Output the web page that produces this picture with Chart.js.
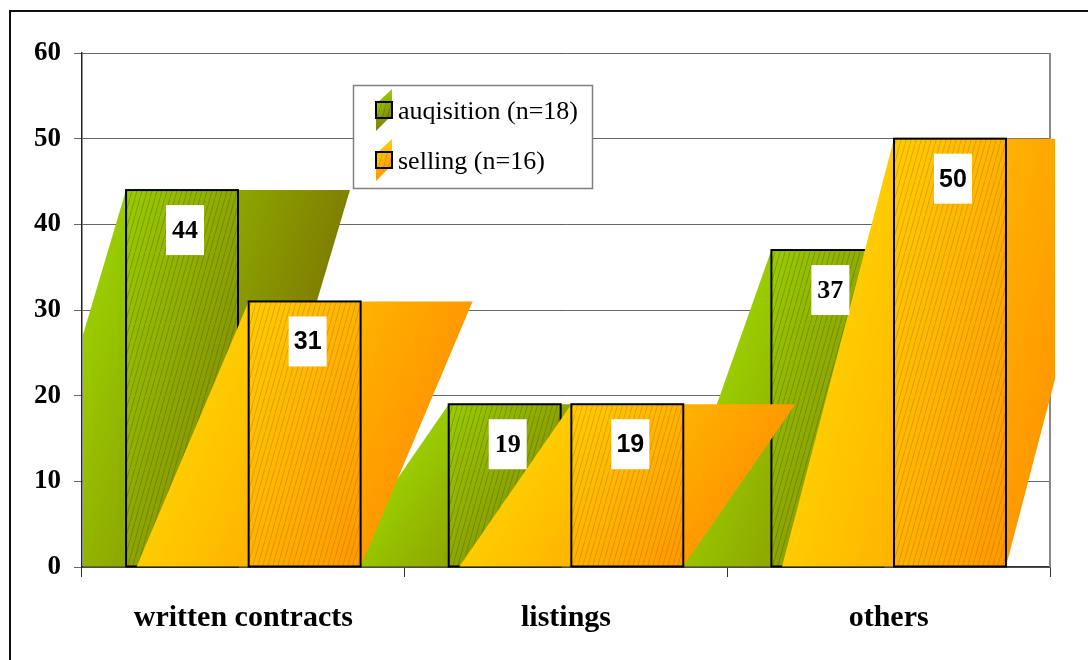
<!DOCTYPE html>
<html>
<head>
<meta charset="utf-8">
<script src="https://cdn.jsdelivr.net/npm/chart.js@4.4.1/dist/chart.umd.min.js"></script>
<style>
  html, body { margin: 0; padding: 0; background: #fff; }
  canvas { display: block; }
</style>
</head>
<body>
<canvas id="chart" width="1088" height="660"></canvas>
<script>
// Survey shares (%) by contract type
const categories = ['written contracts', 'listings', 'others'];
const acquisition = [44, 19, 37];
const selling = [31, 19, 50];
const seriesNames = ['auqisition (n=18)', 'selling (n=16)'];
const yMin = 0;
const yMax = 60;
const yStep = 10;

// Fill styles for each series: gradient from light to dark plus a fine diagonal hatch
const palette = [
  { light: '#9ACC00', dark: '#808000', hatch: 'rgba(60,70,0,0.32)', labelFont: 'bold 26px "Liberation Serif"' },
  { light: '#FFCC00', dark: '#FF9900', hatch: 'rgba(140,80,0,0.28)', labelFont: 'bold 25px "Liberation Sans"' }
];

function hatchPattern(ctx, color) {
  const tile = document.createElement('canvas');
  tile.width = 5; tile.height = 18;
  const g = tile.getContext('2d');
  g.strokeStyle = color;
  g.lineWidth = 1;
  g.beginPath();
  g.moveTo(-1, 18 + 3.6);
  g.lineTo(6, -3.6);
  g.stroke();
  return ctx.createPattern(tile, 'repeat');
}

// Gradient running across the slanted band, light on its left edge, dark on its right edge
function skewGradient(ctx, L, w, top, base, c) {
  const h = Math.max(base - top, 1);
  const k = (2 * w * h) / (h * h + w * w);
  const g = ctx.createLinearGradient(L, top, L + h * k, top + w * k);
  g.addColorStop(0, c.light);
  g.addColorStop(1, c.dark);
  return g;
}

const skewBars = {
  id: 'skewBars',
  beforeDraw(chart) {
    const ctx = chart.ctx;
    ctx.save();
    ctx.fillStyle = '#fff';
    ctx.fillRect(0, 0, chart.width, chart.height);
    ctx.strokeStyle = '#111';
    ctx.lineWidth = 2;
    ctx.beginPath();
    ctx.moveTo(10, chart.height + 2);
    ctx.lineTo(10, 11);
    ctx.lineTo(chart.width + 2, 11);
    ctx.stroke();
    ctx.restore();
  },
  beforeDatasetsDraw(chart) {
    const ctx = chart.ctx, a = chart.chartArea;
    ctx.save();
    ctx.strokeStyle = '#888';
    ctx.lineWidth = 2;
    ctx.beginPath();
    ctx.moveTo(a.right, a.top);
    ctx.lineTo(a.right, a.bottom);
    ctx.stroke();
    ctx.restore();
  },
  afterDatasetsDraw(chart) {
    const ctx = chart.ctx, a = chart.chartArea;
    const metas = chart.data.datasets.map((_, i) => chart.getDatasetMeta(i));
    const hatches = palette.map(p => hatchPattern(ctx, p.hatch));
    const n = chart.data.labels.length;
    // one series after the other: slanted band, then the bar on top of it
    for (let d = 0; d < metas.length; d++) {
      for (let i = 0; i < n; i++) {
        const el = metas[d].data[i];
        const { x, y, base, width } = el.getProps(['x', 'y', 'base', 'width'], true);
        const L = x - width / 2;
        const c = palette[d];
        const grad = skewGradient(ctx, L, width, y, base, c);
        ctx.save();
        ctx.beginPath();
        ctx.rect(a.left + 1, a.top, a.right + 5 - a.left - 1, a.bottom - a.top);
        ctx.clip();
        ctx.beginPath();
        ctx.moveTo(L, y);
        ctx.lineTo(L + 2 * width, y);
        ctx.lineTo(L + width, base);
        ctx.lineTo(L - width, base);
        ctx.closePath();
        ctx.fillStyle = grad;
        ctx.fill();
        ctx.restore();
        ctx.save();
        ctx.fillStyle = grad;
        ctx.fillRect(L, y, width, base - y);
        ctx.fillStyle = hatches[d];
        ctx.fillRect(L, y, width, base - y);
        ctx.lineWidth = 2;
        ctx.strokeStyle = '#000';
        ctx.strokeRect(L, y, width, base - y);
        ctx.restore();
      }
    }
    // value labels on white boxes
    for (let d = 0; d < metas.length; d++) {
      for (let i = 0; i < n; i++) {
        const el = metas[d].data[i];
        const { x, y } = el.getProps(['x', 'y'], true);
        const v = chart.data.datasets[d].data[i];
        const cx = x + 3, top = y + 15;
        ctx.save();
        ctx.fillStyle = '#fff';
        ctx.fillRect(cx - 19, top, 38, 50);
        ctx.fillStyle = '#000';
        ctx.font = palette[d].labelFont;
        ctx.textAlign = 'center';
        ctx.textBaseline = 'middle';
        ctx.fillText(String(v), cx, top + 26);
        ctx.restore();
      }
    }
  },
  afterDraw(chart) {
    const ctx = chart.ctx;
    // legend box
    ctx.save();
    ctx.fillStyle = '#fff';
    ctx.fillRect(353, 85, 239, 103);
    ctx.strokeStyle = '#808080';
    ctx.lineWidth = 1.5;
    ctx.strokeRect(353.5, 85.5, 239, 103);
    const hatches = palette.map(p => hatchPattern(ctx, p.hatch));
    chart.data.datasets.forEach((ds, j) => {
      const c = palette[j];
      const sqTop = 102 + j * 50;
      const sx = 376, size = 16;
      const g = ctx.createLinearGradient(0, sqTop - 13, 0, sqTop + 29);
      g.addColorStop(0, c.light);
      g.addColorStop(1, c.dark);
      ctx.beginPath();
      ctx.moveTo(sx, sqTop + 2);
      ctx.lineTo(sx + size, sqTop - 13);
      ctx.lineTo(sx + size, sqTop + 13);
      ctx.lineTo(sx, sqTop + 29);
      ctx.closePath();
      ctx.fillStyle = g;
      ctx.fill();
      const g2 = ctx.createLinearGradient(sx, sqTop, sx + size, sqTop + size);
      g2.addColorStop(0, c.light);
      g2.addColorStop(1, c.dark);
      ctx.fillStyle = g2;
      ctx.fillRect(sx, sqTop, size, size);
      ctx.fillStyle = hatches[j];
      ctx.fillRect(sx, sqTop, size, size);
      ctx.lineWidth = 2;
      ctx.strokeStyle = '#000';
      ctx.strokeRect(sx, sqTop, size, size);
      ctx.fillStyle = '#000';
      ctx.font = '26px "Liberation Serif"';
      ctx.textAlign = 'left';
      ctx.textBaseline = 'alphabetic';
      ctx.fillText(ds.label, 398, sqTop + 17);
    });
    ctx.restore();
  }
};

new Chart(document.getElementById('chart'), {
  type: 'bar',
  data: {
    labels: categories,
    datasets: [
      { label: seriesNames[0], data: acquisition, backgroundColor: 'rgba(0,0,0,0)', borderWidth: 0,
        categoryPercentage: 0.76, barPercentage: 0.913 },
      { label: seriesNames[1], data: selling, backgroundColor: 'rgba(0,0,0,0)', borderWidth: 0,
        categoryPercentage: 0.76, barPercentage: 0.913 }
    ]
  },
  options: {
    responsive: false,
    animation: false,
    layout: { padding: { top: 53, right: 38, left: 0, bottom: 0 } },
    plugins: {
      legend: { display: false },
      tooltip: { enabled: false },
      title: { display: false }
    },
    scales: {
      x: {
        grid: { display: true, drawOnChartArea: false, drawTicks: true, tickLength: 10, offset: true, color: '#333' },
        border: { display: true, color: '#333', width: 1.5 },
        ticks: { font: { family: 'Liberation Serif', size: 30, weight: 'bold' }, color: '#000', padding: 23, maxRotation: 0 },
        afterFit(scale) { scale.height = 93; }
      },
      y: {
        min: yMin,
        max: yMax,
        ticks: { stepSize: yStep, font: { family: 'Liberation Serif', size: 27, weight: 'bold' }, color: '#000', padding: 13 },
        grid: { color: '#666', tickLength: 8, drawTicks: true },
        border: { display: true, color: '#222', width: 1.5 },
        afterFit(scale) { scale.width = 82; }
      }
    }
  },
  plugins: [skewBars]
});
</script>
</body>
</html>
